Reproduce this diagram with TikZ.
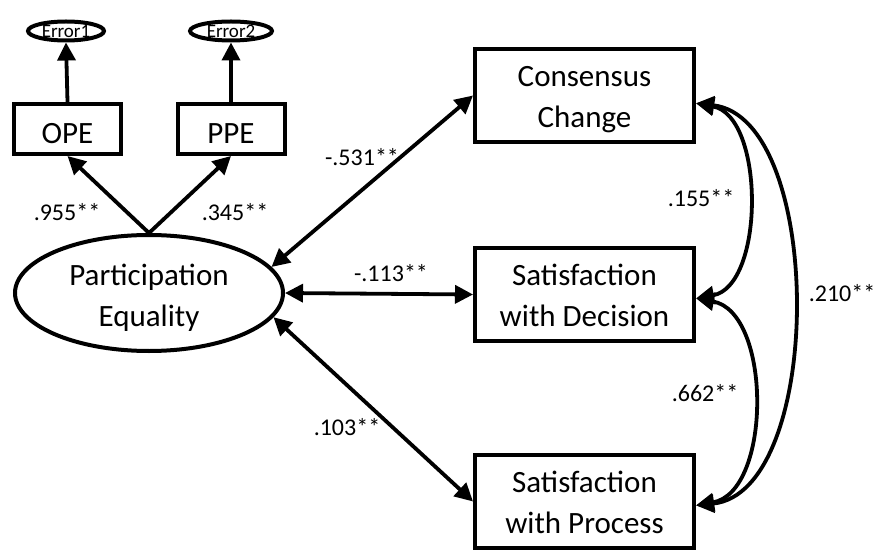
\documentclass[tikz,border=0pt]{standalone}
\usepackage{fontspec}
\setmainfont{Carlito}
\usetikzlibrary{arrows.meta,shapes.geometric}

\tikzset{
  var/.style={draw,line width=2pt,rectangle,align=center,minimum width=109.5pt,
    minimum height=46.5pt,inner sep=0pt,text height=32pt,text depth=0pt,
    font=\fontsize{15.5}{20.5}\selectfont},
  obs/.style={var,minimum width=53.5pt,minimum height=25pt,text height=15pt,text depth=0pt},
  latent/.style={draw,line width=2pt,ellipse,align=center,minimum width=134pt,
    minimum height=58pt,inner sep=0pt,text height=33pt,text depth=0pt,
    font=\fontsize{15.5}{20.5}\selectfont},
  errnode/.style={draw,line width=2pt,ellipse,minimum width=38pt,minimum height=9.5pt,
    inner xsep=0pt,inner ysep=0pt,font=\fontsize{9.5}{11}\selectfont},
  coef/.style={inner sep=1pt,font=\fontsize{12}{14}\selectfont},
  link/.style={line width=1.9pt,-{Triangle[length=9pt,width=9pt]}},
  dbl/.style={line width=1.9pt,{Triangle[length=9pt,width=9pt]}-{Triangle[length=9pt,width=9pt]}},
}

\begin{document}
\begin{tikzpicture}[x=0.5pt,y=-0.5pt]
  \useasboundingbox (0,0) rectangle (876,550);
  % measurement model
  \node[errnode] (e1) at (66,31) {Error1};
  \node[errnode,minimum width=41pt] (e2) at (231,31) {Error2};
  \node[obs] (ope) at (67.5,129) {OPE};
  \node[obs] (ppe) at (231,129) {PPE};
  \node[latent] (pe) at (149,293) {Participation\\Equality};
  \draw[link] (ope.north) -- (e1.south);
  \draw[link] (ppe.north) -- (e2.south);
  \draw[link] (pe.north) -- (ope.south);
  \draw[link] (pe.north) -- (ppe.south);
  \node[coef] (l1) at (67,212) {.955**};
  \node[coef] (l2) at (235,212) {.345**};
  % outcomes
  \node[var] (cc) at (584.5,95.5) {Consensus\\Change};
  \node[var] (sd) at (584.5,294.5) {Satisfaction\\with Decision};
  \node[var] (sp) at (584.5,501.5) {Satisfaction\\with Process};
  \draw[dbl] (pe.12) -- (cc.west);
  \draw[dbl] (pe.east) -- (sd.west);
  \draw[dbl] (pe.-11) -- (sp.west);
  \node[coef] (l3) at (362,157) {-.531**};
  \node[coef] (l4) at (391,273) {-.113**};
  \node[coef] (l5) at (347,427) {.103**};
  % covariances
  \draw[dbl] (cc.-4) .. controls (765,116) and (765,286) .. (sd.-2);
  \draw[dbl] (sd.-2) .. controls (772,312) and (772,492) .. (sp.-2);
  \draw[dbl] (cc.-4) .. controls (825,118) and (825,492) .. (sp.-2);
  \node[coef] (l6) at (701,198) {.155**};
  \node[coef] (l7) at (705,393) {.662**};
  \node[coef] (l8) at (842,293) {.210**};
\end{tikzpicture}
\end{document}
